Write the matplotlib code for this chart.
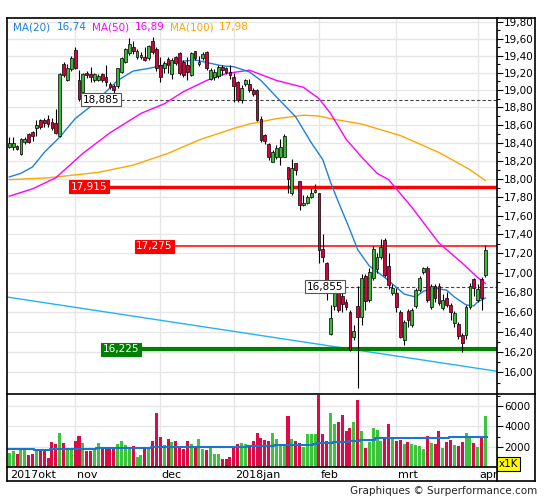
import numpy as np
import matplotlib
matplotlib.use("Agg")
import matplotlib.pyplot as plt
from matplotlib.lines import Line2D
from matplotlib.ticker import FixedLocator, NullFormatter

# daily candles, 9 okt 2017 .. 5 apr 2018
opens = [18.35, 18.35, 18.36, 18.27, 18.41, 18.50, 18.52, 18.57, 18.65, 18.65,
         18.67, 18.63, 18.62, 18.47, 19.30, 19.12, 19.24, 19.47, 19.11, 18.98,
         19.20, 19.19, 19.11, 19.12, 19.18, 19.15, 19.07, 19.04, 19.04, 19.21,
         19.33, 19.43, 19.50, 19.38, 19.38, 19.38, 19.37, 19.58, 19.48, 19.29,
         19.25, 19.36, 19.19, 19.39, 19.43, 19.33, 19.29, 19.17, 19.45, 19.30,
         19.37, 19.44, 19.13, 19.15, 19.16, 19.27, 19.25, 19.21, 19.15, 19.09,
         18.88, 19.07, 19.07, 19.00, 19.00, 18.67, 18.49, 18.39, 18.19, 18.24,
         18.24, 18.24, 18.13, 17.84, 18.17, 17.97, 17.72, 17.74, 17.80, 17.86,
         17.84, 17.25, 17.10, 16.38, 16.66, 16.81, 16.76, 16.70, 16.60, 16.35,
         16.66, 16.55, 16.97, 16.72, 16.94, 17.04, 17.16, 17.34, 17.07, 16.79,
         16.79, 16.60, 16.32, 16.61, 16.47, 16.66, 16.82, 17.01, 17.05, 16.65,
         16.86, 16.86, 16.64, 16.74, 16.67, 16.49, 16.48, 16.37, 16.37, 16.65,
         16.93, 16.72, 16.93, 16.98]
highs = [18.46, 18.46, 18.37, 18.45, 18.46, 18.51, 18.53, 18.65, 18.67, 18.68,
         18.71, 18.68, 18.78, 19.20, 19.32, 19.30, 19.40, 19.50, 19.23, 19.20,
         19.22, 19.27, 19.20, 19.19, 19.20, 19.29, 19.09, 19.07, 19.26, 19.38,
         19.49, 19.61, 19.58, 19.48, 19.44, 19.50, 19.53, 19.62, 19.50, 19.38,
         19.34, 19.39, 19.37, 19.40, 19.44, 19.35, 19.38, 19.44, 19.46, 19.40,
         19.44, 19.45, 19.25, 19.24, 19.29, 19.29, 19.27, 19.29, 19.20, 19.10,
         19.06, 19.13, 19.13, 19.02, 19.01, 18.70, 18.50, 18.40, 18.32, 18.37,
         18.44, 18.50, 18.13, 18.22, 18.17, 17.97, 17.82, 17.82, 17.90, 17.94,
         17.85, 17.41, 17.11, 16.67, 16.84, 16.85, 16.80, 16.73, 16.62, 16.47,
         16.86, 16.99, 16.99, 17.05, 17.28, 17.20, 17.35, 17.36, 17.20, 16.88,
         16.84, 16.62, 16.52, 16.63, 16.64, 16.84, 16.97, 17.06, 17.07, 16.88,
         16.88, 16.89, 16.78, 16.80, 16.69, 16.61, 16.50, 16.39, 16.67, 16.89,
         16.95, 16.88, 16.96, 17.29]
lows = [18.34, 18.32, 18.32, 18.26, 18.38, 18.40, 18.42, 18.47, 18.55, 18.58,
        18.58, 18.54, 18.50, 18.46, 19.15, 19.10, 19.22, 19.24, 18.87, 18.96,
        19.14, 19.09, 19.09, 19.10, 19.09, 19.04, 19.01, 18.96, 19.02, 19.20,
        19.31, 19.41, 19.42, 19.36, 19.36, 19.34, 19.35, 19.42, 19.22, 19.09,
        19.20, 19.20, 19.13, 19.29, 19.17, 19.15, 19.11, 19.16, 19.35, 19.28,
        19.35, 19.23, 19.11, 19.11, 19.14, 19.17, 19.19, 19.13, 18.86, 18.86,
        18.85, 19.05, 18.98, 18.93, 18.64, 18.41, 18.39, 18.21, 18.19, 18.22,
        18.15, 18.24, 17.84, 17.82, 18.04, 17.66, 17.70, 17.73, 17.79, 17.84,
        17.10, 17.11, 16.72, 16.37, 16.62, 16.60, 16.60, 16.62, 16.21, 16.32,
        15.85, 16.47, 16.62, 16.70, 16.92, 17.00, 17.14, 16.96, 16.83, 16.77,
        16.60, 16.34, 16.27, 16.45, 16.45, 16.64, 16.80, 16.99, 16.70, 16.63,
        16.70, 16.67, 16.62, 16.65, 16.52, 16.45, 16.33, 16.20, 16.33, 16.63,
        16.76, 16.70, 16.62, 16.96]
closes = [18.40, 18.40, 18.33, 18.44, 18.44, 18.41, 18.48, 18.60, 18.58, 18.62,
          18.61, 18.56, 18.51, 19.19, 19.17, 19.26, 19.37, 19.25, 18.89, 19.19,
          19.17, 19.15, 19.18, 19.16, 19.11, 19.09, 19.03, 19.00, 19.25, 19.37,
          19.48, 19.54, 19.45, 19.46, 19.41, 19.35, 19.51, 19.44, 19.25, 19.15,
          19.31, 19.29, 19.35, 19.31, 19.20, 19.17, 19.21, 19.43, 19.37, 19.33,
          19.42, 19.25, 19.23, 19.21, 19.27, 19.23, 19.21, 19.17, 19.04, 18.88,
          19.02, 19.11, 19.00, 18.95, 18.66, 18.43, 18.42, 18.24, 18.29, 18.34,
          18.35, 18.48, 18.00, 18.12, 18.10, 17.72, 17.74, 17.80, 17.84, 17.88,
          17.24, 17.16, 16.81, 16.54, 16.81, 16.62, 16.68, 16.65, 16.22, 16.41,
          16.55, 16.94, 16.71, 17.01, 17.25, 17.16, 17.27, 16.98, 16.87, 16.84,
          16.65, 16.35, 16.50, 16.52, 16.62, 16.82, 16.95, 17.05, 16.72, 16.86,
          16.74, 16.69, 16.72, 16.67, 16.60, 16.59, 16.36, 16.29, 16.65, 16.86,
          16.84, 16.83, 16.74, 17.24]
volumes = [1370, 1570, 1270, 1700, 1870, 1170, 1270, 1630, 1770, 1770,
           870, 2470, 2270, 3370, 2370, 1700, 1700, 2570, 3070, 2370,
           1570, 1570, 1870, 2370, 1970, 1870, 1870, 1970, 2270, 2570,
           2170, 1970, 2070, 970, 1170, 1870, 1870, 2570, 5370, 2970,
           2170, 2770, 2470, 2570, 1970, 1770, 2570, 2270, 1970, 2770,
           1770, 1670, 2070, 1270, 1270, 770, 770, 970, 1970, 2270,
           2370, 2270, 2070, 2570, 3370, 2870, 2670, 2570, 3370, 2770,
           2270, 2170, 5070, 2770, 2570, 2370, 1970, 3270, 3270, 3270,
           7100, 3270, 2570, 5370, 4270, 4470, 5170, 3570, 3870, 4470,
           6570, 3570, 1870, 2470, 3870, 3670, 2570, 2970, 4270, 2770,
           2570, 2670, 2270, 2470, 2270, 2170, 2070, 1770, 3070, 2370,
           2270, 3570, 1870, 2470, 2670, 2170, 2070, 2470, 3370, 2870,
           2370, 1970, 3070, 5070]

# moving averages (candle index, value)
ma20_idx = [0, 3, 6, 9, 13, 17, 21, 25, 28, 32, 36, 40, 44, 48, 51, 55, 58, 62, 65, 69,
            74, 78, 81, 83, 85, 88, 90, 93, 97, 100, 102, 105, 107, 110, 113, 115, 118,
            120, 121, 123]
ma20_val = [18.02, 18.06, 18.13, 18.29, 18.46, 18.67, 18.81, 18.98, 19.11, 19.22, 19.25,
            19.29, 19.33, 19.35, 19.32, 19.28, 19.27, 19.21, 19.11, 18.92, 18.69, 18.40,
            18.21, 17.96, 17.75, 17.45, 17.24, 17.07, 16.95, 16.85, 16.78, 16.75, 16.81,
            16.84, 16.82, 16.75, 16.67, 16.66, 16.70, 16.74]
ma50_idx = [0, 6, 12, 19, 26, 34, 40, 45, 51, 56, 62, 69, 76, 80, 83, 87, 91, 95, 98,
            104, 111, 117, 121, 123]
ma50_val = [17.81, 17.89, 18.01, 18.28, 18.51, 18.73, 18.84, 18.98, 19.11, 19.19, 19.23,
            19.11, 19.03, 18.90, 18.73, 18.44, 18.24, 18.06, 17.99, 17.69, 17.31, 17.10,
            16.95, 16.89]
ma100_idx = [0, 10, 23, 32, 41, 49, 58, 62, 69, 76, 80, 83, 91, 101, 111, 119, 123]
ma100_val = [17.99, 18.01, 18.07, 18.15, 18.28, 18.43, 18.56, 18.61, 18.67, 18.71, 18.70,
             18.67, 18.61, 18.48, 18.29, 18.10, 17.98]

# volume average (steps)
vma_start = [0, 7, 11, 23, 37, 62, 67, 69, 79, 80, 84, 88, 91, 95, 114]
vma_val = [1730, 1630, 1730, 1830, 1970, 2030, 2100, 2170, 2270, 2370, 2470, 2570,
           2700, 2830, 3000]

# support / resistance levels and trend line
level_red_thick = 17.915
level_red_thin = 17.275
level_green = 16.225
level_dash_hi = 18.885
level_dash_lo = 16.855
trend_x = [-0.6, 126.0]
trend_y = [16.75, 16.01]

months = ["2017okt", "nov", "dec", "2018jan", "feb", "mrt", "apr"]
month_idx = [0, 17, 39, 58, 80, 100, 121]

GREEN = "#35bb35"
RED = "#d8003c"
VGREEN = "#3cc43c"
VRED = "#dc0a46"
C20 = "#1e80dc"
C50 = "#ff00ff"
C100 = "#ffa500"
GRID = "#e6e6e6"

W, H = 545, 500
fig = plt.figure(figsize=(W / 100, H / 100), dpi=100)


def box(l, t, r, b):
    return [l / W, 1 - b / H, (r - l) / W, (b - t) / H]


def fline(x0, y0, x1, y1):
    fig.add_artist(Line2D([x0 / W, x1 / W], [1 - y0 / H, 1 - y1 / H],
                          color="black", lw=1.2, transform=fig.transFigure))


def fcomma(v, n):
    return f"{v:.{n}f}".replace(".", ",")


ax = fig.add_axes(box(7, 18, 497, 394))
axv = fig.add_axes(box(7, 394, 497, 467))
axd = fig.add_axes(box(7, 467, 497, 481))

o = np.array(opens); h = np.array(highs); l = np.array(lows); c = np.array(closes)
x = np.arange(len(o))
up = c >= o
XL = (-0.6, 126.0)

# ---- price panel
ax.set_yscale("log")
ax.set_xlim(*XL)
ax.set_ylim(15.79, 19.85)
for m in month_idx[1:]:
    ax.axvline(m, color=GRID, lw=1, zorder=0)
yt = np.round(np.arange(16.0, 19.81, 0.2), 2)
ax.yaxis.set_major_locator(FixedLocator(yt))
ax.yaxis.set_minor_locator(FixedLocator(np.round(np.arange(15.9, 19.85, 0.2), 2)))
ax.set_yticklabels([fcomma(v, 2) for v in yt])
ax.yaxis.set_minor_formatter(NullFormatter())
ax.yaxis.tick_right()
ax.tick_params(axis="y", which="major", length=4, width=0.8, labelsize=7.5, pad=1)
ax.tick_params(axis="y", which="minor", length=2, width=0.8)
ax.set_xticks([])
for v in yt:
    ax.axhline(v, color=GRID, lw=1, zorder=0)
for s in ax.spines.values():
    s.set_visible(False)

ax.plot(trend_x, trend_y, color="#22b4ee", lw=1, zorder=2)
ax.hlines(level_red_thick, 15.7, XL[1], color="#ff0000", lw=2.5, zorder=2)
ax.hlines(level_red_thin, 32.5, XL[1], color="#ff0000", lw=1.1, zorder=2)
ax.hlines(level_green, 23.9, XL[1], color="#008000", lw=3, zorder=2)
ax.hlines(level_dash_hi, 18.8, XL[1], color="#444444", lw=0.8, linestyles=(0, (3, 2)), zorder=2)
ax.hlines(level_dash_lo, 76.6, XL[1], color="#444444", lw=0.8, linestyles=(0, (3, 2)), zorder=2)

ax.plot(ma100_idx, ma100_val, color=C100, lw=1, zorder=3)
ax.plot(ma50_idx, ma50_val, color=C50, lw=1, zorder=3)
ax.plot(ma20_idx, ma20_val, color=C20, lw=1, zorder=3)

ax.vlines(x, l, h, color="black", lw=0.8, zorder=4)
body = np.maximum(np.abs(c - o), 0.006)
ax.bar(x, body, bottom=np.minimum(o, c), width=0.72,
       color=np.where(up, GREEN, RED), edgecolor="black", linewidth=0.5, zorder=5)

def tag(xi, y, txt, fc, ec, tc):
    ax.text(xi + 0.25, y, txt, fontsize=7.5, color=tc, ha="left", va="center", zorder=6,
            bbox=dict(boxstyle="square,pad=0.15", fc=fc, ec=ec, lw=0.8))

tag(15.7, level_red_thick, fcomma(level_red_thick, 3), "#ff0000", "#ff0000", "white")
tag(32.5, level_red_thin, fcomma(level_red_thin, 3), "#ff0000", "#ff0000", "white")
tag(23.9, level_green, fcomma(level_green, 3), "#008000", "#008000", "white")
tag(18.8, level_dash_hi, fcomma(level_dash_hi, 3), "white", "#555555", "black")
tag(76.6, level_dash_lo, fcomma(level_dash_lo, 3), "white", "#555555", "black")

# legend
leg = [("MA(20)", 13, C20), (fcomma(ma20_val[-1], 2), 57, C20),
       ("MA(50)", 92, C50), (fcomma(ma50_val[-1], 2), 135, C50),
       ("MA(100)", 170, C100), (fcomma(ma100_val[-1], 2), 219, C100)]
for txt, px, col in leg:
    fig.text(px / W, 1 - 27 / H, txt, color=col, fontsize=7.5, ha="left", va="center")

# ---- volume panel
axv.set_xlim(*XL)
axv.set_ylim(0, 7200)
for m in month_idx[1:]:
    axv.axvline(m, color=GRID, lw=1, zorder=0)
for v in [2000, 4000, 6000]:
    axv.axhline(v, color=GRID, lw=1, zorder=0)
axv.bar(x, volumes, width=0.78, color=np.where(up, VGREEN, VRED), zorder=2)
sx = np.append(vma_start, len(volumes)) - 0.5
sy = np.append(vma_val, vma_val[-1])
axv.step(sx, sy, where="post", color="#1a74d2", lw=1.5, zorder=3)
axv.yaxis.tick_right()
axv.set_yticks([2000, 4000, 6000])
axv.set_yticklabels(["2000", "4000", "6000"])
axv.set_yticks([1000, 3000, 5000, 7000], minor=True)
axv.tick_params(axis="y", which="major", length=4, width=0.8, labelsize=7.5, pad=1)
axv.tick_params(axis="y", which="minor", length=2, width=0.8)
axv.set_xticks([])
for s in axv.spines.values():
    s.set_visible(False)

# ---- date strip
axd.set_xlim(*XL)
axd.set_ylim(0, 1)
axd.axis("off")
for name, m in zip(months, month_idx):
    axd.text(m + 0.4 if m else 0.2, 0.45, name, fontsize=8, ha="left", va="center",
             clip_on=True)

# frame
fline(7, 18, 535, 18)
fline(7, 481, 535, 481)
fline(7, 18, 7, 481)
fline(535, 18, 535, 481)
fline(497, 18, 497, 481)
fline(7, 394, 535, 394)
fline(7, 467, 497, 467)

fig.text(499 / W, 1 - 464 / H, "x1K", fontsize=7.5, ha="left", va="center",
         bbox=dict(boxstyle="square,pad=0.15", fc="#ffff00", ec="black", lw=0.8))
fig.text(537 / W, 1 - 491 / H, "Graphiques \u00a9 Surperformance.com", fontsize=7.5,
         color="#222222", ha="right", va="center")

fig.savefig("out.png", dpi=100)
